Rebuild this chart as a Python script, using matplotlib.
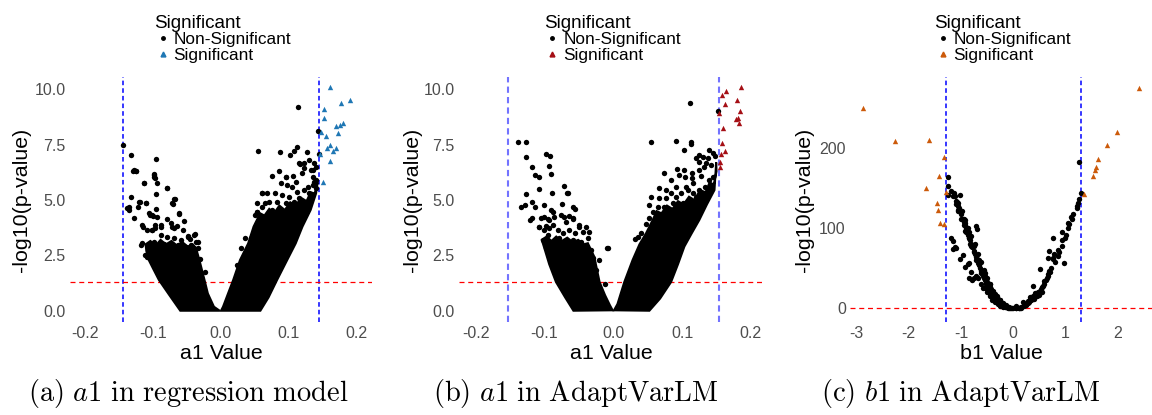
import matplotlib
matplotlib.use("Agg")
import matplotlib.pyplot as plt
from matplotlib.lines import Line2D

plt.rcParams['font.family'] = ['Liberation Sans', 'DejaVu Sans']
plt.rcParams['mathtext.fontset'] = 'cm'

# ---------------- panel (a): a1 in regression model ----------------
# outlines of the saturated part of the point cloud (left and right wing)
a_left_x = [-0.060, -0.076, -0.0915, -0.100, -0.1064, -0.110, -0.111,
            -0.104, -0.096, -0.089, -0.081, -0.073, -0.065, -0.057, -0.049, -0.042, -0.037,
            -0.0318, -0.0243, -0.0194, -0.0104, -0.002]
a_left_y = [0.0, 0.7, 1.39, 1.9, 2.29, 2.7, 3.0,
            3.15, 2.95, 3.2, 3.0, 3.15, 2.95, 3.1, 2.9, 3.0, 2.85,
            2.29, 1.39, 0.78, 0.18, 0.0]
a_right_x = [0.0, 0.003, 0.0104, 0.018, 0.028, 0.040, 0.048, 0.0577,
             0.064, 0.071, 0.078, 0.086, 0.094, 0.102, 0.110, 0.118, 0.126, 0.132, 0.138, 0.1423,
             0.140, 0.132, 0.120, 0.110, 0.0975, 0.0826, 0.070, 0.058]
a_right_y = [0.0, 0.18, 0.78, 1.39, 2.29, 3.04, 3.8, 4.4,
             4.3, 4.6, 4.4, 4.75, 4.55, 4.9, 4.75, 5.1, 4.95, 5.35, 5.3, 5.8,
             5.3, 4.55, 3.8, 3.04, 2.29, 1.39, 0.6, 0.0]
# scattered non-significant points
a_ns_x = [-0.1438, -0.1328, -0.0950, -0.1299, -0.1249, -0.0990, -0.0975, -0.1130, -0.0940, -0.0790,
          -0.0950, -0.1328, -0.1204, -0.0676, -0.0700, -0.1100, -0.1388, -0.1360, -0.1348, -0.1229,
          -0.0950, -0.1064, -0.1015, -0.0940, -0.0617, -0.1288, -0.0790, -0.1164, -0.0552, -0.0890,
          -0.0716, -0.0642, -0.1090, -0.1015, -0.0965, -0.0383, -0.0490, -0.1174, -0.0343, -0.1090,
          -0.0303, 0.0243, -0.0243,
          -0.1288, -0.1249, -0.0990, -0.0980, -0.1139, -0.0791, -0.1199, -0.1100, -0.0691, -0.0716,
          -0.0616, -0.1040, -0.1000, -0.0741, -0.0891, -0.0965, -0.1149, -0.1015, -0.0691, -0.0567,
          -0.0393, -0.0493, -0.0891, -0.0791, -0.0691, -0.0592, -0.1164, -0.1090, -0.0990, -0.0368,
          -0.0443, -0.0343, -0.1114, -0.0891, -0.0741, -0.0592, -0.0840, -0.0640, -0.0520, -0.0460,
          0.1134, 0.0542, 0.0876, 0.1020, 0.1075, 0.1124, 0.1260, 0.1423, 0.1448, 0.0750,
          0.0600, 0.0527, 0.0354, 0.0289, 0.0950, 0.1150, 0.1220, 0.1300, 0.1350, 0.1400,
          0.0950, 0.1060, 0.1100, 0.1199, 0.1170, 0.1220, 0.1320, 0.1348, 0.1370, 0.1398,
          0.0890, 0.0975, 0.0800, 0.0677, 0.0602, 0.0700, 0.0527, 0.0527, 0.0502, 0.1124,
          0.1220, 0.1294, 0.1000, 0.0900, 0.0826, 0.0950, 0.1075, 0.1174, 0.1294, 0.0751,
          0.0870, 0.1000, 0.1124, 0.1249, 0.0677, 0.0800, 0.0925, 0.1075, 0.1199, 0.0627,
          0.0751, 0.0900, 0.0577, 0.0700, 0.1370, 0.1398, 0.0652, 0.0602, 0.1350, 0.1280,
          0.0440, 0.0560, 0.0850, 0.1040, 0.1150, 0.0720]
a_ns_y = [7.48, 7.03, 6.84, 6.32, 6.30, 6.16, 6.01, 5.75, 5.75, 5.53,
          5.26, 5.15, 4.92, 5.03, 4.82, 4.85, 4.62, 4.55, 4.70, 4.67,
          4.58, 4.40, 4.32, 4.25, 4.37, 4.17, 4.13, 3.87, 4.07, 3.79,
          3.79, 3.83, 3.65, 3.65, 3.72, 3.46, 3.37, 2.97, 3.12, 2.44,
          2.32, 2.06, 1.76,
          6.36, 6.33, 6.13, 6.03, 5.75, 5.53, 4.92, 4.85, 5.03, 4.85,
          4.40, 4.32, 4.28, 3.95, 3.87, 3.87, 3.79, 3.65, 3.72, 3.65,
          3.42, 3.34, 3.42, 3.34, 3.27, 3.19, 3.04, 2.97, 3.12, 3.12,
          2.97, 2.82, 2.52, 2.82, 2.74, 2.86, 3.00, 2.95, 2.90, 3.25,
          9.21, 7.23, 7.18, 7.03, 7.23, 7.38, 7.15, 8.13, 7.10, 6.08,
          5.30, 4.47, 3.27, 2.85, 6.05, 6.66, 6.43, 6.80, 6.36, 5.90,
          6.05, 6.10, 5.83, 6.20, 6.63, 6.69, 6.35, 6.05, 6.66, 6.50,
          5.75, 5.68, 5.30, 5.30, 5.30, 4.92, 4.88, 4.47, 4.32, 5.37,
          5.45, 5.30, 5.15, 5.22, 4.92, 4.85, 4.92, 4.85, 5.00, 4.55,
          4.55, 4.47, 4.55, 4.47, 4.25, 4.17, 4.17, 4.10, 4.10, 3.87,
          3.79, 3.79, 3.50, 3.42, 5.83, 5.53, 4.85, 4.70, 5.70, 5.60,
          3.30, 4.00, 6.30, 5.60, 5.10, 4.30]
a_sig_x = [0.1607, 0.1770, 0.1896, 0.1522, 0.1522, 0.1687, 0.1746, 0.1796, 0.1473, 0.1547,
           0.1720, 0.1557, 0.1607, 0.1646, 0.1687, 0.1463, 0.1607, 0.1507]
a_sig_y = [10.09, 9.40, 9.52, 9.11, 8.73, 8.34, 8.39, 8.46, 8.09, 7.89,
           8.01, 7.36, 7.48, 7.23, 7.33, 7.06, 6.78, 5.83]

# ---------------- panel (b): a1 in AdaptVarLM ----------------
b_left_x = [-0.058, -0.070, -0.0834, -0.0932, -0.100, -0.104,
            -0.097, -0.090, -0.083, -0.075, -0.067, -0.059, -0.051, -0.043, -0.037,
            -0.0277, -0.020, -0.012, -0.005, -0.001]
b_left_y = [0.0, 0.6, 1.3, 2.1, 2.8, 3.2,
            3.35, 3.15, 3.35, 3.15, 3.3, 3.1, 3.2, 3.0, 3.05,
            2.44, 1.3, 0.7, 0.25, 0.02]
b_right_x = [0.001, 0.006, 0.016, 0.028, 0.038, 0.0476, 0.0572, 0.063,
             0.070, 0.078, 0.086, 0.094, 0.102, 0.110, 0.118, 0.126, 0.134, 0.140, 0.146, 0.150, 0.1495,
             0.147, 0.136, 0.125, 0.114, 0.1033, 0.094, 0.084, 0.068, 0.0524]
b_right_y = [0.02, 0.3, 1.3, 2.29, 3.0, 3.5, 4.1, 4.5,
             4.4, 4.75, 4.6, 4.95, 4.8, 5.15, 5.0, 5.45, 5.35, 5.8, 5.7, 6.3, 6.7,
             5.45, 4.8, 4.1, 3.5, 2.9, 2.1, 1.3, 0.55, 0.0]
b_ns_x = [-0.1383, -0.1271, -0.1262, -0.0980, -0.0921, -0.1189, -0.0942, -0.1140, -0.1087, -0.0907,
          -0.1077, -0.1262, -0.0898, -0.0713, -0.0674, -0.0655, -0.1175, -0.1004, -0.0747, -0.1344,
          -0.1285, -0.1140, -0.0907, -0.0883, -0.0592, -0.0553, -0.0761, -0.0713, -0.1213, -0.1175,
          -0.1004, -0.0956, -0.0640, -0.0582, -0.1077, -0.0980, -0.0883, -0.0495, -0.0349, -0.0092,
          -0.0204, -0.0301, -0.0116, -0.0083,
          -0.1077, -0.1004, -0.0932, -0.0810, -0.0738, -0.0640, -0.0558, -0.0447, -0.1029, -0.0883,
          -0.0786, -0.0689, -0.0592, -0.0470, -0.0374, -0.0980, -0.0834, -0.0689, -0.0543, -0.0422,
          -0.0325, -0.1052, -0.0932, -0.0859, -0.0689, -0.0592, -0.0495, -0.0398, -0.0374, -0.0301,
          -0.0252, -0.0950, -0.0760, -0.0600,
          0.1116, 0.1518, 0.0548, 0.0912, 0.1131, 0.1131, 0.1033, 0.1252, 0.1397, 0.1446,
          0.1300, 0.1373, 0.0742, 0.0840, 0.0670, 0.0548, 0.0524, 0.0960, 0.1033, 0.1048,
          0.1145, 0.1252, 0.1325, 0.0767, 0.0912, 0.1058, 0.1155, 0.0524, 0.0403, 0.0320,
          0.0354,
          0.1203, 0.1252, 0.1350, 0.1422, 0.1446, 0.1397, 0.1339, 0.1252, 0.1155, 0.1082,
          0.0985, 0.0912, 0.0840, 0.0767, 0.0670, 0.0645, 0.0742, 0.0863, 0.1009, 0.1106,
          0.1203, 0.1300, 0.1373, 0.0840, 0.0960, 0.1082, 0.1180, 0.0572, 0.0645, 0.0767,
          0.0920, 0.1150, 0.1280, 0.1480, 0.0480]
b_ns_y = [7.61, 7.63, 6.93, 7.06, 7.00, 6.50, 6.54, 6.13, 6.05, 6.16,
          5.48, 5.27, 5.30, 5.63, 5.30, 5.30, 4.92, 4.77, 4.82, 4.70,
          4.77, 4.67, 4.55, 4.47, 4.67, 4.61, 4.32, 4.25, 4.10, 4.17,
          4.22, 4.13, 4.28, 4.17, 3.79, 3.83, 3.87, 3.77, 3.57, 2.82,
          2.29, 2.37, 1.21, 2.82,
          3.79, 3.65, 3.72, 3.65, 3.50, 3.65, 3.50, 3.57, 3.19, 3.12,
          3.27, 3.04, 3.19, 3.12, 3.27, 2.82, 2.74, 2.66, 2.74, 2.82,
          2.74, 4.17, 4.10, 4.25, 4.02, 4.13, 3.87, 3.79, 2.44, 2.21,
          1.84, 3.40, 3.00, 2.95,
          9.37, 9.03, 7.61, 7.66, 7.61, 7.53, 7.26, 7.03, 7.26, 7.11,
          6.96, 6.88, 6.21, 5.90, 5.53, 5.15, 4.77, 6.13, 6.36, 6.05,
          5.98, 6.36, 6.50, 5.45, 5.15, 5.60, 5.30, 4.17, 3.50, 3.22,
          3.34,
          6.88, 6.73, 6.66, 6.58, 6.05, 5.90, 5.60, 5.45, 5.75, 5.45,
          5.30, 5.60, 5.30, 5.08, 5.08, 4.70, 4.70, 4.85, 4.85, 4.92,
          5.15, 5.23, 5.30, 4.47, 4.55, 4.47, 4.62, 4.47, 4.25, 4.25,
          6.40, 6.20, 6.10, 7.00, 3.90]
b_sig_x = [0.1849, 0.1640, 0.1582, 0.1800, 0.1616, 0.1834, 0.1543, 0.1790, 0.1809, 0.1820,
           0.1601, 0.1582, 0.1630, 0.1572, 0.1553, 0.1553]
b_sig_y = [10.09, 9.92, 9.74, 9.52, 9.34, 9.02, 8.94, 8.66, 8.72, 8.49,
           8.27, 7.59, 7.23, 7.08, 6.73, 6.50]

# ---------------- panel (c): b1 in AdaptVarLM ----------------
c_ns_x = [-1.257, -1.257, -1.246, -1.181, -1.137, -1.099, -1.055, -0.990, -1.023, -0.928,
          -0.884, -0.705, -0.693, -1.181, -1.150, -1.099, -1.150, -1.023, -0.928, -0.865,
          -0.756, -0.674, -1.120, -1.080, -1.050, -1.030, -1.000, -0.970, -0.950, -0.920,
          -0.900, -0.880, -0.860, -0.840, -0.820, -0.800, -0.780, -0.760, -0.740, -0.720,
          -0.700, -0.680, -0.660, -0.640, -0.620, -0.600, -0.580, -0.560, -0.540, -0.520,
          -0.500, -0.480, -0.460, -0.440, -0.420, -0.400, -0.380, -0.360, -0.340, -0.320,
          -0.300, -0.280, -0.260, -0.240, -0.220, -0.200, -0.180, -0.160, -0.140, -0.120,
          -0.100, -0.080, -0.060, -0.040, -0.020, 0.000, -0.950, -0.850, -0.750, -0.650,
          -0.550, -0.450, -0.350, -0.250, -0.920, -0.820, -0.720, -0.620, -0.520, -0.420,
          -0.320, -1.120, -0.960, -0.840, -0.800, -0.720, -0.620, -0.580, -0.500, -0.850,
          -0.780, -0.550, -0.450, -0.400, -0.300, -0.200, -0.150,
          -1.150, -1.100, -1.050, -1.000, -0.950, -0.900, -0.850, -0.800, -0.750, -0.700,
          -0.650, -0.600, -0.550, -0.500, -0.450, -0.400, -0.350, -0.300, -0.250, -0.200,
          -1.050, -0.980, -0.920, -0.860, -0.800, -0.740, -0.680, -0.620, -0.560, -0.500,
          -0.440, -0.380, -0.320, -0.260, -0.200, -0.140, -0.080,
          -0.450, -0.400, -0.350, -0.300, -0.250, -0.200, -0.100, -0.380, -0.420, -0.470,
          -0.520, -0.480, -0.440,
          0.057, 0.183, 0.310, 0.373, 0.438, 0.501, 0.514, 0.564, 0.596, 0.640,
          0.659, 0.691, 0.724, 0.659, 0.754, 0.754, 0.787, 0.691, 0.850, 0.933,
          0.933, 0.754, 0.933, 1.040, 1.072, 1.040, 1.105, 1.219, 1.211, 1.263,
          1.295, 1.263, 0.977, 0.100, 0.150, 0.200, 0.250, 0.280, 0.330, 0.360,
          0.400, 0.420, 0.460, 0.480, 0.520, 0.550, 0.580, 0.620, 0.660, 0.700,
          0.800, 0.850, 0.880, 0.980, 1.000, 1.120, 1.150, 1.240, 0.120, 0.200,
          0.300, 0.350, 0.400, 0.450, 0.050, 0.250,
          0.050, 0.100, 0.150, 0.220, 0.280, 0.320, 0.380, 0.420, 0.500, 0.550]
c_ns_y = [164.0, 152.3, 142.0, 146.1, 144.1, 133.7, 122.1, 121.2, 142.0, 106.8,
          100.6, 102.6, 98.5, 88.2, 84.0, 75.8, 73.7, 61.2, 51.7, 55.0,
          38.5, 37.6, 140.0, 133.0, 128.0, 125.0, 118.0, 112.0, 108.0, 104.0,
          100.0, 96.0, 92.0, 88.0, 85.0, 80.0, 76.0, 72.0, 68.0, 64.0,
          60.0, 57.0, 54.0, 50.0, 47.0, 44.0, 41.0, 38.0, 35.0, 32.0,
          30.0, 27.0, 25.0, 22.0, 20.0, 18.0, 16.0, 14.5, 13.0, 11.5,
          10.0, 8.8, 7.6, 6.5, 5.5, 4.6, 3.8, 3.0, 2.3, 1.7,
          1.2, 0.8, 0.5, 0.2, 0.1, 0.0, 112.0, 95.0, 78.0, 60.0,
          44.0, 30.0, 18.0, 10.0, 96.0, 80.0, 60.0, 44.0, 30.0, 18.0,
          10.0, 76.0, 66.0, 56.0, 45.0, 40.0, 30.0, 26.0, 20.0, 38.0,
          36.0, 25.0, 18.0, 14.0, 7.0, 3.0, 2.0,
          140.0, 130.0, 122.0, 112.0, 104.0, 95.0, 88.0, 78.0, 70.0, 62.0,
          55.0, 47.0, 40.0, 33.0, 27.0, 21.0, 16.0, 12.0, 8.0, 5.0,
          132.0, 122.0, 110.0, 100.0, 90.0, 80.0, 68.0, 58.0, 48.0, 38.0,
          30.0, 22.0, 16.0, 11.0, 7.0, 4.0, 2.0,
          15.0, 11.0, 8.0, 5.0, 3.0, 1.5, 0.2, 20.0, 24.0, 28.0,
          36.0, 22.0, 18.0,
          3.3, 7.5, 13.7, 28.1, 17.8, 21.9, 48.8, 28.1, 34.3, 38.5,
          42.6, 46.7, 50.9, 63.4, 61.2, 63.4, 67.5, 71.6, 72.4, 77.8,
          84.8, 87.3, 95.7, 100.6, 104.7, 106.8, 114.3, 124.6, 127.5, 136.6,
          144.1, 182.1, 56.6, 1.0, 2.0, 3.5, 5.5, 7.0, 10.0, 12.0,
          14.5, 16.0, 19.0, 21.0, 24.0, 27.0, 31.0, 36.0, 40.0, 45.0,
          58.0, 65.0, 70.0, 88.0, 92.0, 112.0, 118.0, 132.0, 0.5, 4.5,
          8.5, 12.0, 12.0, 15.0, 0.5, 4.0,
          0.2, 0.3, 0.8, 6.0, 9.0, 12.0, 15.0, 19.0, 17.0, 20.0]
c_sig_x = [-2.865, -2.261, -1.613, -1.333, -1.417, -1.665, -1.290, -1.467, -1.436, -1.404, -1.322,
           2.411, 1.981, 1.783, 1.619, 1.581, 1.554, 1.516, 1.345]
c_sig_y = [249.7, 209.1, 210.3, 188.8, 165.6, 149.8, 145.7, 132.0, 122.1, 106.0, 104.7,
           275.3, 219.4, 204.1, 186.3, 175.9, 172.2, 165.6, 143.2]

fig = plt.figure(figsize=(11.52, 4.15), dpi=100)
W, H = 1152, 415

def make_axes(left, right, top=77, bottom=322):
    return fig.add_axes([left / W, 1 - bottom / H, (right - left) / W, (bottom - top) / H])

ax_a = make_axes(70, 372)
ax_b = make_axes(459, 764)
ax_c = make_axes(850, 1152)

panels = [
    (ax_a, a_ns_x, a_ns_y, a_sig_x, a_sig_y, [(a_left_x, a_left_y), (a_right_x, a_right_y)],
     '#1f77b4', 0.145, '#0000ff', 1.1, 1.301, 'a1 Value', -0.159),
    (ax_b, b_ns_x, b_ns_y, b_sig_x, b_sig_y, [(b_left_x, b_left_y), (b_right_x, b_right_y)],
     '#a50f15', 0.153, '#7373ff', 1.5, 1.301, 'a1 Value', -0.154),
    (ax_c, c_ns_x, c_ns_y, c_sig_x, c_sig_y, [],
     '#cc5a0a', 1.29, '#0000ff', 1.1, 0, 'b1 Value', -0.150),
]

for ax, nx, ny, sx, sy, cores, sig_col, thr, vcol, vlw, hline, xlab, ylab_x in panels:
    for cx, cy in cores:
        ax.fill(cx, cy, color='black', lw=1.5, zorder=2)
    ax.scatter(nx, ny, s=15, color='black', marker='o', lw=0, zorder=3)
    ax.scatter(sx, sy, s=15, color=sig_col, marker='^', lw=0, zorder=3)
    ax.axvline(-thr, color=vcol, ls=(0, (3, 2)), lw=vlw, zorder=1)
    ax.axvline(thr, color=vcol, ls=(0, (3, 2)), lw=vlw, zorder=1)
    ax.axhline(hline, color='#ff0000', ls=(0, (4, 3)), lw=0.9, zorder=1)

    for s in ax.spines.values():
        s.set_visible(False)
    ax.tick_params(length=0, labelsize=11.5, labelcolor='#4d4d4d', pad=3)
    ax.set_xlabel(xlab, fontsize=15.4)
    ax.set_ylabel('-log10(p-value)', fontsize=15.4)
    ax.xaxis.label.set_va('center')
    ax.yaxis.label.set_va('center')
    ax.xaxis.set_label_coords(0.5, -0.127)
    ax.yaxis.set_label_coords(ylab_x, 0.5)

    handles = [Line2D([], [], ls='', marker='o', ms=2.5, color='black'),
               Line2D([], [], ls='', marker='^', ms=3.5, color=sig_col)]
    ax.legend(handles, ['Non-Significant', 'Significant'], title='Significant',
              loc='upper left', bbox_to_anchor=(0.25, 1.29), frameon=False,
              fontsize=12.4, title_fontsize=13.6, alignment='left', borderpad=0,
              handlelength=1.0, handletextpad=0.12, labelspacing=0.05)

for ax in (ax_a, ax_b):
    ax.set_xlim(-0.2224, 0.2224)
    ax.set_ylim(-0.51, 10.56)
    ax.set_xticks([-0.2, -0.1, 0.0, 0.1, 0.2])
    ax.set_xticklabels(['-0.2', '-0.1', '0.0', '0.1', '0.2'])
    ax.set_yticks([0, 2.5, 5, 7.5, 10])
    ax.set_yticklabels(['0.0', '2.5', '5.0', '7.5', '10.0'])
ax_b.set_xlim(-0.2243, 0.219)

ax_c.set_xlim(-3.12, 2.65)
ax_c.set_ylim(-17, 288.6)
ax_c.set_xticks([-3, -2, -1, 0, 1, 2])
ax_c.set_xticklabels(['-3', '-2', '-1', '0', '1', '2'])
ax_c.set_yticks([0, 100, 200])
ax_c.set_yticklabels(['0', '100', '200'])

captions = [r'$\mathrm{(a)}\ a1\ \mathrm{in\ regression\ model}$',
            r'$\mathrm{(b)}\ a1\ \mathrm{in\ AdaptVarLM}$',
            r'$\mathrm{(c)}\ b1\ \mathrm{in\ AdaptVarLM}$']
for cap, cxp in zip(captions, [188, 576, 961]):
    fig.text(cxp / W, 1 - 393 / H, cap, ha='center', va='center', fontsize=20.5)

fig.savefig('out.png', dpi=100)
